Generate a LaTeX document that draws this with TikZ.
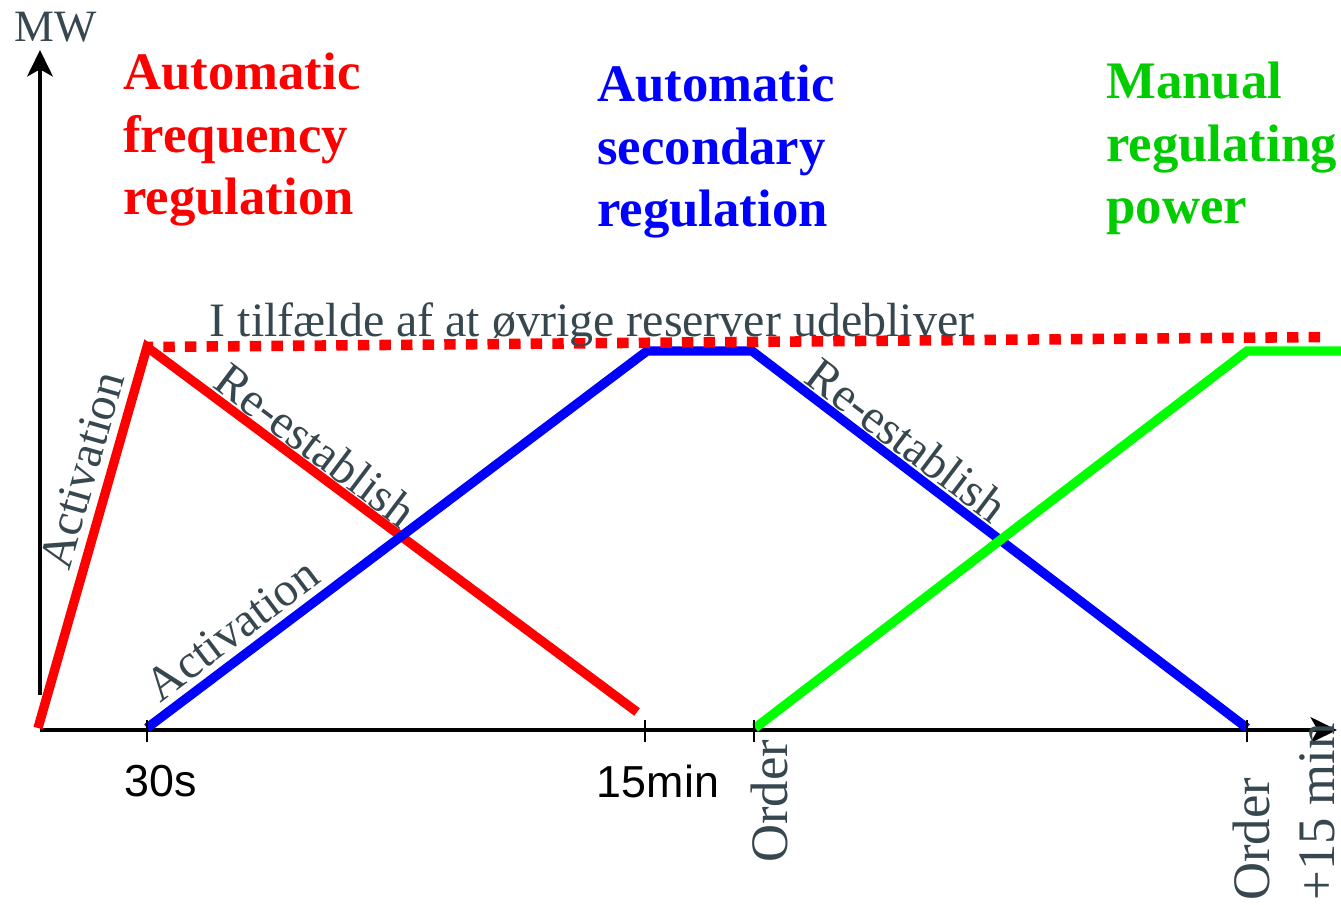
\documentclass[tikz,border=0pt]{standalone}
\usepackage{fontspec}
\setmainfont{Liberation Serif}
\setsansfont{Liberation Sans}
\usepackage{tikz}
\usetikzlibrary{arrows.meta, positioning}
\definecolor{afrred}{RGB}{255,0,0}
\definecolor{asrblue}{RGB}{0,0,255}
\definecolor{mrpgreen}{RGB}{0,255,0}
\definecolor{mrptext}{RGB}{0,204,0}
\definecolor{labelgray}{RGB}{55,71,79}
\tikzstyle{axis} = [line width=2.5pt, 
-{Stealth[length=15pt, width=14.5pt, inset=4pt]}]
\tikzstyle{tick} = [line width=1.6pt]
\tikzstyle{curve} = [line width=5.3pt, 
line join=miter]
\tikzstyle{reserve} = [line width=6pt, 
dash pattern=on 6.5pt off 5.8pt, 
dash phase=3pt]
\tikzstyle{title} = [inner sep=0pt, 
anchor=north west, 
align=left, 
font=\fontsize{30}{35.5}\selectfont\bfseries]
\tikzstyle{lbl} = [inner sep=0pt, 
text=labelgray, 
font=\fontsize{27.3}{32}\selectfont]
\tikzstyle{orderlbl} = [inner sep=0pt, 
text=labelgray, 
align=left, 
rotate=90, 
font=\fontsize{30}{37}\selectfont]
\tikzstyle{timelbl} = [inner sep=0pt, 
anchor=base, 
font=\sffamily\fontsize{25.5}{30}\selectfont]

\begin{document}
\begin{tikzpicture}[x=0.02cm, y=-0.02cm]
        \useasboundingbox (0,0) rectangle (1341,905);

        % --- Ejes ---
        \coordinate (ybot) at (40,695);
        \coordinate (ytop) at (40,50);
        \coordinate (xbeg) at (40,730);
        \coordinate (xend) at (1337,730);
        \draw [axis] (ybot) -- (ytop);
        \draw [axis] (xbeg) -- (xend);

        % --- Puntos de las curvas ---
        \coordinate (r0) at (38,728);
        \coordinate (r1) at (147,347);
        \coordinate (r2) at (637,712);
        \coordinate (rend) at (1330,337);
        \coordinate (b0) at (147,728);
        \coordinate (b1) at (647,351);
        \coordinate (b2) at (752,351);
        \coordinate (b3) at (1247,728);
        \coordinate (g0) at (755,728);
        \coordinate (g1) at (1247,351);
        \coordinate (g2) at (1345,351);

        % --- Curvas ---
        \draw [curve, afrred] (r0) -- (r1) -- (r2);
        \draw [curve, asrblue] (b0) -- (b1) -- (b2) -- (b3);
        \draw [reserve, afrred] (r1) -- (rend);
        \draw [curve, mrpgreen] (g0) -- (g1) -- (g2);

        % --- Marcas del eje de tiempo ---
        \foreach \x in {147, 645, 754, 1247}
            \draw [tick] (\x,720) -- (\x,742);

        % --- Textos ---
        \node (mw) [lbl, anchor=base, font=\fontsize{25.5}{30}\selectfont] at (56,42) {MW};
        \node (afr) [title, text=afrred] at (123,53) {Automatic\\frequency\\regulation};
        \node (asr) [title, text=asrblue] at (597,65) {Automatic\\secondary\\regulation};
        \node (mrp) [title, text=mrptext] at (1106,62) {Manual\\regulating\\power};
        \node (reserve) [lbl, anchor=base] at (592,337) {I tilfælde af at øvrige reserver udebliver};

        \node (afract) [lbl, rotate=74] at (82,470) {Activation};
        \node (afrback) [lbl, rotate=-37] at (316,445) {Re-establish};
        \node (asract) [lbl, rotate=37] at (232,630) {Activation};
        \node (asrback) [lbl, rotate=-37] at (907,440) {Re-establish};

        \node (t30s) [timelbl] at (161,796) {30s};
        \node (t15min) [timelbl] at (658,797) {15min};
        \node (order) [orderlbl, anchor=base west] at (787,863) {Order};
        \node (order15) [orderlbl, anchor=south west] at (1335,901) {Order\\+15 min};

    \end{tikzpicture}
\end{document}
